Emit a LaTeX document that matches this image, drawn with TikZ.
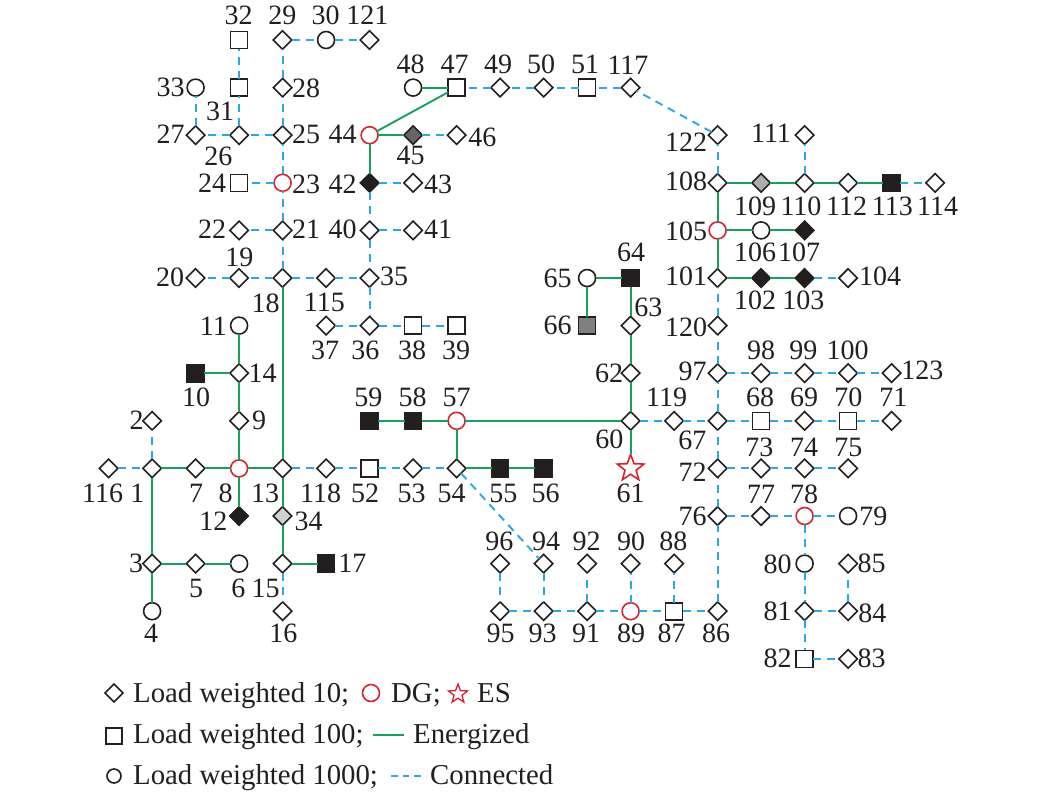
\documentclass[tikz,border=0pt]{standalone}
\usepackage{fontspec}
\setmainfont{Liberation Serif}
\usetikzlibrary{shapes.geometric}
\definecolor{inkc}{HTML}{231F20}
\definecolor{redc}{HTML}{D8232F}
\definecolor{greenc}{HTML}{16A05A}
\definecolor{bluec}{HTML}{29A9E0}
\tikzset{
  mark base/.style={draw=inkc,line width=1.6pt,inner sep=0pt,outer sep=0pt,fill=white},
  dia/.style={mark base,diamond,aspect=1,minimum size=18.5pt},
  sqr/.style={mark base,rectangle,minimum size=17pt},
  cir/.style={mark base,circle,minimum size=17pt},
  dg/.style={cir,draw=redc},
  starnode/.style={mark base,draw=redc,star,star points=5,star point ratio=2.4,minimum size=28pt},
  lbl/.style={inner sep=0pt,text=inkc,font=\fontsize{28}{30}\selectfont},
  leg/.style={inner sep=0pt,anchor=base west,text=inkc,font=\fontsize{28.8}{30}\selectfont},
  energized/.style={draw=greenc,line width=1.9pt},
  connected/.style={draw=bluec,line width=1.9pt,dash pattern=on 8pt off 6pt},
}
\begin{document}
\begin{tikzpicture}[x=1pt,y=-1pt]
\useasboundingbox (0,0) rectangle (1040,806);
% diamonds
\foreach \n/\c/\r in {1/1/9,2/1/8,3/1/11,5/2/11,7/2/9,9/3/8,13/4/9,14/3/7,15/4/11,16/4/12,18/4/5,19/3/5,20/2/5,21/4/4,22/3/4,25/4/2,26/3/2,27/2/2,28/4/1,29/4/0,121/6/0,35/6/5,36/6/6,37/5/6,40/6/4,41/7/4,43/7/3,46/8/2,49/9/1,50/10/1,117/12/1,122/14/2,108/14/3,110/16/3,111/16/2,112/17/3,114/19/3,101/14/5,104/17/5,120/14/6,97/14/7,98/15/7,99/16/7,100/17/7,123/18/7,67/14/8,119/13/8,60/12/8,69/16/8,71/18/8,72/14/9,73/15/9,74/16/9,75/17/9,76/14/10,77/15/10,81/16/12,83/17/13,84/17/12,85/17/11,86/14/12,88/13/11,90/12/11,91/11/12,92/11/11,93/10/12,94/10/11,95/9/12,96/9/11,53/7/9,54/8/9,62/12/7,63/12/6,116/0/9,118/5/9,115/5/5}
  {\node[dia] (n\n) at ({108.6+43.5*\c},{40+47.6*\r}) {};}
% black diamonds
\foreach \n/\c/\r in {12/3/10,42/6/3,107/16/4,102/15/5,103/16/5}
  {\node[dia,fill=inkc] (n\n) at ({108.6+43.5*\c},{40+47.6*\r}) {};}
% grey diamonds
\node[dia,fill=black!18] (n34) at ({108.6+43.5*4},{40+47.6*10}) {};
\node[dia,fill=black!60] (n45) at ({108.6+43.5*7},{40+47.6*2}) {};
\node[dia,fill=black!32] (n109) at ({108.6+43.5*15},{40+47.6*3}) {};
% squares
\foreach \n/\c/\r in {24/3/3,31/3/1,32/3/0,38/7/6,39/8/6,47/8/1,51/11/1,68/15/8,70/17/8,82/16/13,87/13/12,52/6/9}
  {\node[sqr] (n\n) at ({108.6+43.5*\c},{40+47.6*\r}) {};}
% black squares
\foreach \n/\c/\r in {10/2/7,17/5/11,113/18/3,55/9/9,56/10/9,58/7/8,59/6/8,64/12/5}
  {\node[sqr,fill=inkc] (n\n) at ({108.6+43.5*\c},{40+47.6*\r}) {};}
\node[sqr,fill=black!50] (n66) at ({108.6+43.5*11},{40+47.6*6}) {};
% circles
\foreach \n/\c/\r in {4/1/12,6/3/11,11/3/6,30/5/0,33/2/1,48/7/1,106/15/4,79/17/10,80/16/11,65/11/5}
  {\node[cir] (n\n) at ({108.6+43.5*\c},{40+47.6*\r}) {};}
% DG
\foreach \n/\c/\r in {8/3/9,23/4/3,44/6/2,105/14/4,78/16/10,89/12/12,57/8/8}
  {\node[dg] (n\n) at ({108.6+43.5*\c},{40+47.6*\r}) {};}
% ES
\node[starnode] (n61) at ({108.6+43.5*12},{40+47.6*9}) {};
% energized lines
\foreach \a/\b in {1/7,7/8,8/13,8/9,9/14,14/11,14/10,8/12,13/18,13/34,34/15,15/17,1/3,3/5,5/6,3/4,44/47,48/47,44/45,44/42,59/58,58/57,57/54,54/55,55/56,57/60,60/61,60/62,62/63,63/64,64/65,65/66,108/109,109/110,110/112,112/113,108/105,105/106,106/107,105/101,101/102,102/103}
  {\draw[energized] (n\a) -- (n\b);}
% connected lines
\foreach \a/\b in {116/1,1/2,13/118,118/52,52/53,53/54,54/94,94/93,96/95,95/93,93/91,91/92,91/89,89/90,89/87,87/88,87/86,86/76,76/72,72/67,67/97,97/120,120/101,76/77,77/78,78/79,78/80,80/81,81/82,82/83,81/84,84/85,72/73,73/74,74/75,67/68,68/69,69/70,70/71,60/119,119/67,97/98,98/99,99/100,100/123,103/104,113/114,110/111,108/122,122/117,117/51,51/50,50/49,49/47,45/46,42/43,42/40,40/41,40/35,35/36,37/36,36/38,38/39,18/115,115/35,18/19,19/20,18/21,21/22,21/23,23/24,23/25,25/26,26/27,27/33,26/31,31/32,25/28,28/29,29/30,30/121,15/16}
  {\draw[connected] (n\a) -- (n\b);}
% labels
\foreach \n/\x/\y in {32/238.7/15,29/282.3/15,30/325.7/15,121/367.3/15,48/410.7/64,47/454.7/64,49/498/64,50/541/64,51/585/64,117/628/65,33/170.7/87,28/306/88,31/220/111,27/170.7/134,26/218.3/156,25/306/134,44/342.7/134,46/482.3/137,45/410.7/155,24/212/183,23/306/184,42/342.7/184,43/438/184,22/212/229,21/306/229,40/342.7/229,41/438/229,19/239.3/257,20/170/277,35/394/276,18/265.7/303,115/324.3/302,11/213.3/326,37/325/350,36/365.3/350,38/412/350,39/456/350,14/262.7/373,10/196/397,9/259/420,2/136.7/420,59/368.3/397,58/412.7/397,57/456.7/397,116/102.7/493,1/137.3/493,7/196/493,8/225.7/493,13/265/493,118/320.7/493,52/365/493,53/411.7/493,54/451.7/493,55/503.3/493,56/545.7/493,12/213.3/521,34/308.7/521,3/136/563,17/352.3/563,5/196/588,6/238.3/588,15/265.7/588,4/151/633,16/283.3/633,96/499.3/541,94/546/541,95/500.7/633,93/542.7/633,92/586.7/541,90/631/541,88/673.3/541,91/586/633,89/631/633,87/671.7/633,86/716/633,62/609/373,97/692.7/371,98/761/350,99/803.3/350,100/847.7/350,123/922.3/370,119/666.7/397,68/760/397,69/804/397,70/848.3/397,71/893.3/397,60/609.3/439,67/692.3/440,73/759.3/447,74/804/447,75/848.3/447,72/692.7/472,61/630.7/493,77/761/494,78/804/494,76/692.7/516,79/873.3/516,80/777.7/564,85/871.7/563,81/777.7/611,84/872.3/613,82/777.7/658,83/871.7/658,122/686/142,111/771/133,108/686/181,109/755/206,110/801/206,112/846.7/206,113/892.3/206,114/937.7/206,105/686/231,106/755/252,107/799/252,64/631/252,65/557.7/278,101/686/276,104/880/276,102/755/300,103/803.3/300,63/648.3/307,66/557.7/325,120/686/327}
  {\node[lbl] (l\n) at (\x,\y) {\n};}
% legend
\node[mark base,diamond,aspect=1,minimum size=18pt] (k1) at (114,693) {};
\node[mark base,rectangle,minimum size=16.5pt] (k2) at (114,736) {};
\node[mark base,circle,minimum size=14pt] (k3) at (114,776) {};
\node[dg,minimum size=17pt] (k4) at (371,693) {};
\node[mark base,draw=redc,star,star points=5,star point ratio=2.4,minimum size=20pt,line width=1.3pt] (k5) at (458,694) {};
\node[leg] (t1) at (133,702) {Load weighted 10;};
\node[leg] (t2) at (391,702) {DG;};
\node[leg] (t3) at (477,702) {ES};
\node[leg] (t4) at (133,743.5) {Load weighted 100;};
\node[leg] (t5) at (413,743.5) {Energized};
\node[leg] (t6) at (133,784.5) {Load weighted 1000;};
\node[leg] (t7) at (430,784.5) {Connected};
\coordinate (g1) at (373,735);
\coordinate (g2) at (404,735);
\coordinate (b1) at (391,776);
\coordinate (b2) at (421,776);
\draw[energized] (g1) -- (g2);
\draw[connected,dash pattern=on 6.5pt off 5pt] (b1) -- (b2);
\end{tikzpicture}
\end{document}
